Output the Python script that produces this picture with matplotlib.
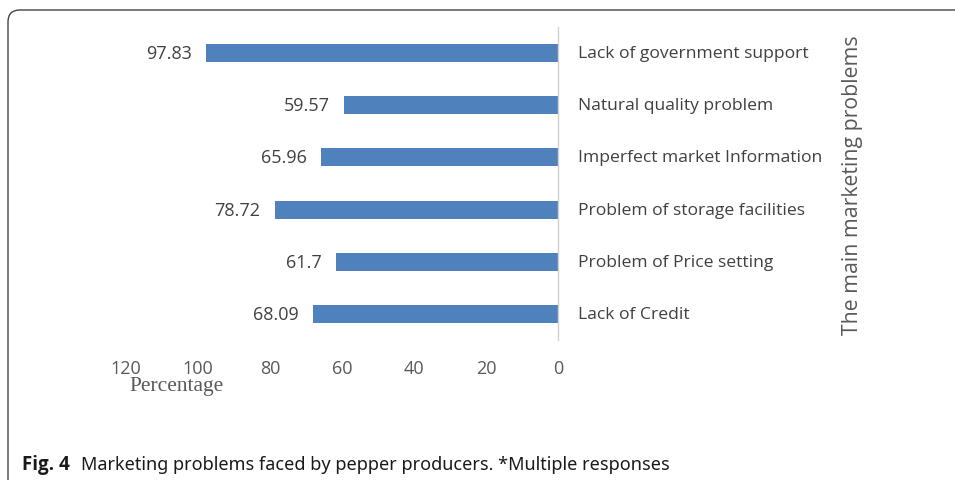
#!/usr/bin/env python3
"""
Fig. 4 - Marketing problems faced by pepper producers (horizontal bars)
"""

import matplotlib
matplotlib.use("Agg")
import matplotlib.pyplot as plt
from matplotlib.patches import FancyBboxPatch
from matplotlib.transforms import IdentityTransform

# Data
problems = [
    "Lack of government support",
    "Natural quality problem",
    "Imperfect market Information",
    "Problem of storage facilities",
    "Problem of Price setting",
    "Lack of Credit",
]
percentages = [97.83, 59.57, 65.96, 78.72, 61.7, 68.09]
value_labels = ["97.83", "59.57", "65.96", "78.72", "61.7", "68.09"]
x_ticks = [120, 100, 80, 60, 40, 20, 0]

BAR_COLOR = "#4f81bd"
TEXT_COLOR = "#404040"
TICK_COLOR = "#595959"
FONT = ["Open Sans", "DejaVu Sans"]


def main():
    fig = plt.figure(figsize=(9.55, 4.81), dpi=100)
    W, H = 955, 481

    # plot area in pixels: x 126..558, y 28..341 (from top)
    ax = fig.add_axes([126 / W, 1 - 341 / H, 432 / W, 313 / H])

    ypos = list(range(len(problems)))
    ax.barh(ypos, percentages, height=0.345, color=BAR_COLOR, zorder=2)
    ax.set_xlim(120, 0)
    ax.set_ylim(len(problems) - 0.5, -0.5)

    for y, v, lab in zip(ypos, percentages, value_labels):
        ax.text(v + 3.9, y, lab, ha="right", va="center", fontsize=13,
                color=TEXT_COLOR, family=FONT)
        ax.text(-5.5, y, problems[y], ha="left", va="center", fontsize=12.6,
                color=TEXT_COLOR, family=FONT, clip_on=False)

    for side in ("top", "left", "bottom"):
        ax.spines[side].set_visible(False)
    ax.spines["right"].set_color("#d0d0d0")
    ax.spines["right"].set_linewidth(1.0)

    ax.set_yticks([])
    ax.set_xticks(x_ticks)
    ax.set_xticklabels([str(t) for t in x_ticks], fontsize=13,
                       color=TICK_COLOR, family=FONT)
    ax.tick_params(axis="x", length=0, pad=14)

    # axis titles
    fig.text(177 / W, 1 - 387 / H, "Percentage", ha="center", va="center",
             fontsize=15.5, color=TICK_COLOR, family=["Liberation Serif", "DejaVu Serif"])
    fig.text(852 / W, 1 - 185 / H, "The main marketing problems", ha="center",
             va="center", rotation=90, fontsize=15.3, color=TICK_COLOR, family=FONT)

    # caption
    fig.text(22 / W, 1 - 465 / H, "Fig. 4", ha="left", va="center",
             fontsize=13.5, fontweight="bold", color="#1a1a1a", family=FONT)
    fig.text(81 / W, 1 - 465 / H, "Marketing problems faced by pepper producers. *Multiple responses",
             ha="left", va="center", fontsize=13, color="#1a1a1a",
             family=["Noto Sans", "DejaVu Sans"])

    # rounded frame around the figure (open to the right and bottom)
    frame = FancyBboxPatch((8, -60), 1100, 530,
                           boxstyle="round,pad=0,rounding_size=12",
                           transform=IdentityTransform(), fill=False,
                           edgecolor="#444444", linewidth=1.0)
    fig.patches.append(frame)

    fig.savefig("out.png", dpi=100)


if __name__ == "__main__":
    main()
